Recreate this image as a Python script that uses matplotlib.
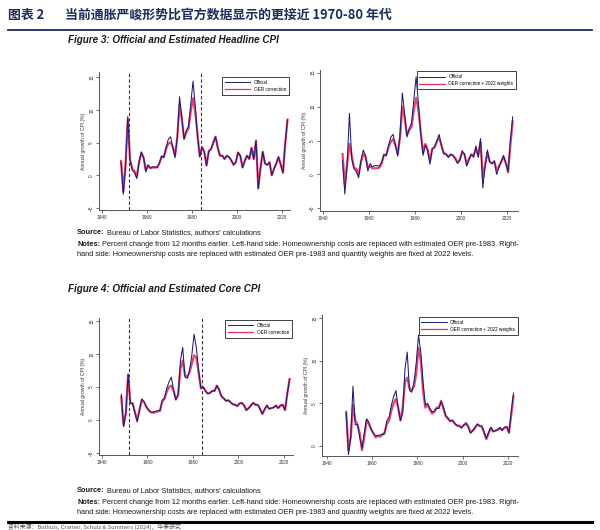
import matplotlib
matplotlib.use("Agg")
import matplotlib.pyplot as plt
from matplotlib.lines import Line2D

plt.rcParams['font.family'] = ['Liberation Sans', 'DejaVu Sans']

# ---- data (annual growth of CPI, %) ----
years = [y + 0.5 for y in range(1948, 2023)]

headline_official = [
    2.0, -2.9, 1.5, 9.0, 2.3, 0.8, 0.4, -0.5, 2.0, 3.6,
    2.8, 0.5, 1.6, 1.1, 1.3, 1.3, 1.2, 1.8, 3.0, 2.7,
    4.3, 5.5, 5.9, 4.3, 2.7, 5.8, 12.0, 9.0, 5.5, 6.8,
    7.5, 11.0, 14.4, 10.5, 6.0, 2.8, 4.3, 3.6, 1.5, 3.7,
    4.0, 5.0, 5.9, 4.2, 3.0, 3.0, 2.5, 3.0, 2.8, 2.3,
    1.6, 2.0, 3.5, 3.0, 1.2, 2.2, 3.0, 2.5, 4.2, 2.5,
    5.3, -2.0, 1.2, 3.6, 1.8, 1.6, 2.0, 0.0, 1.0, 1.8,
    2.8, 1.6, 0.4, 5.0, 8.5]

headline_oer = [
    2.2, -2.5, 1.6, 8.6, 2.4, 1.0, 0.6, -0.2, 2.0, 3.4,
    2.7, 0.8, 1.5, 1.1, 1.2, 1.2, 1.2, 1.8, 2.8, 2.8,
    4.0, 4.9, 5.0, 4.4, 3.0, 5.8, 10.8, 8.6, 5.6, 6.6,
    7.2, 9.8, 11.8, 9.6, 6.2, 2.9, 4.3, 3.6, 1.5, 3.7,
    4.0, 5.0, 5.9, 4.2, 3.0, 3.0, 2.5, 3.0, 2.8, 2.3,
    1.6, 2.0, 3.5, 3.0, 1.2, 2.2, 3.0, 2.5, 4.2, 2.5,
    5.3, -2.0, 1.2, 3.6, 1.8, 1.6, 2.0, 0.0, 1.0, 1.8,
    2.8, 1.6, 0.4, 5.0, 8.5]

headline_oer_w22 = [
    3.0, -1.5, 1.5, 4.5, 2.8, 1.0, 0.8, 0.0, 1.8, 3.0,
    2.6, 1.0, 1.2, 0.9, 0.9, 0.9, 1.0, 1.6, 2.8, 2.9,
    4.0, 4.8, 5.2, 4.3, 3.0, 5.5, 10.0, 8.3, 5.8, 6.5,
    7.0, 9.5, 11.3, 9.5, 6.3, 3.3, 4.5, 3.6, 2.0, 3.8,
    4.0, 4.8, 5.4, 4.3, 3.2, 3.0, 2.6, 2.9, 2.8, 2.4,
    1.8, 2.2, 3.2, 3.0, 1.5, 2.3, 2.9, 2.8, 3.8, 2.8,
    4.8, -0.5, 1.4, 3.2, 1.9, 1.6, 1.9, 0.6, 1.2, 1.9,
    2.6, 1.7, 0.3, 4.4, 7.8]

core_official = [
    3.9, -1.0, 1.0, 7.0, 2.5, 2.5, 1.0, -0.3, 1.5, 3.2,
    2.8, 2.0, 1.5, 1.2, 1.2, 1.3, 1.4, 1.4, 3.0, 3.4,
    4.8, 5.8, 6.5, 4.5, 3.0, 3.8, 9.0, 11.0, 6.5, 6.3,
    7.5, 9.8, 13.0, 11.0, 7.5, 4.8, 5.0, 4.4, 4.0, 4.1,
    4.4, 4.4, 5.2, 4.6, 3.6, 3.3, 2.9, 3.0, 2.7, 2.4,
    2.3, 2.1, 2.5, 2.6, 2.2, 1.5, 1.8, 2.2, 2.6, 2.3,
    2.3, 1.7, 0.9, 1.6, 2.2, 1.7, 1.8, 1.9, 2.2, 1.8,
    2.2, 2.3, 1.5, 4.0, 6.2]

core_oer = [
    3.5, -0.8, 1.0, 6.8, 2.6, 2.5, 1.2, 0.0, 1.5, 3.0,
    2.7, 2.0, 1.5, 1.2, 1.1, 1.2, 1.3, 1.4, 2.8, 3.2,
    4.3, 5.0, 5.2, 4.4, 3.2, 3.8, 7.8, 9.0, 6.8, 6.5,
    7.2, 8.5, 9.8, 9.5, 7.2, 4.8, 5.0, 4.4, 4.0, 4.1,
    4.4, 4.4, 5.2, 4.6, 3.6, 3.3, 2.9, 3.0, 2.7, 2.4,
    2.3, 2.1, 2.5, 2.6, 2.2, 1.5, 1.8, 2.2, 2.6, 2.3,
    2.3, 1.7, 0.9, 1.6, 2.2, 1.7, 1.8, 1.9, 2.2, 1.8,
    2.2, 2.3, 1.5, 4.0, 6.2]

core_oer_w22 = [
    4.0, -0.5, 1.0, 4.8, 3.0, 2.5, 1.5, -0.5, 1.0, 3.0,
    2.6, 2.0, 1.5, 1.0, 1.2, 1.1, 1.3, 1.6, 2.6, 3.0,
    4.2, 5.0, 5.5, 4.5, 3.0, 4.5, 7.5, 8.0, 6.8, 6.5,
    7.0, 8.5, 11.5, 10.0, 6.5, 4.5, 4.8, 4.3, 3.8, 4.0,
    4.5, 4.5, 5.3, 4.4, 3.5, 3.2, 2.9, 3.0, 2.6, 2.4,
    2.4, 2.2, 2.4, 2.7, 2.3, 1.6, 1.8, 2.1, 2.5, 2.4,
    2.3, 1.5, 0.8, 1.5, 2.1, 1.7, 1.8, 1.9, 2.1, 1.9,
    2.1, 2.2, 1.6, 3.6, 5.8]

oer_break_years = [1952, 1984]
x_ticks = [1940, 1960, 1980, 2000, 2020]

NAVY = '#1c1c78'
RED = '#e8305a'
INK = '#1a1a1a'
W, H = 600, 530

fig = plt.figure(figsize=(6, 5.3), dpi=100)
renderer = fig.canvas.get_renderer()


def px_axes(left, top, right, bottom):
    return fig.add_axes([left / W, 1 - bottom / H, (right - left) / W, (bottom - top) / H])


def panel(rect, ylim, yticks, xlim, official, est, est_label, leg_anchor, breaks):
    ax = px_axes(*rect)
    ax.plot(years, est, color=RED, lw=1.6, alpha=0.9, zorder=2)
    ax.plot(years, official, color=NAVY, lw=0.75, zorder=3)
    for b in breaks:
        ax.axvline(b, color='#333333', lw=0.8, ls=(0, (3, 2)), zorder=1)
    ax.set_xlim(*xlim)
    ax.set_ylim(*ylim)
    ax.set_xticks(x_ticks)
    ax.set_yticks(yticks)
    ax.tick_params(labelsize=3.4, length=2, width=0.5, pad=1.5, colors='#333333')
    for lbl in ax.get_yticklabels():
        lbl.set_rotation(90)
        lbl.set_va('center')
    for s in ['top', 'right']:
        ax.spines[s].set_visible(False)
    for s in ['left', 'bottom']:
        ax.spines[s].set_color('#555555')
        ax.spines[s].set_linewidth(0.7)
    ax.set_ylabel('Annual growth of CPI (%)', fontsize=3.6, labelpad=2, color='#333333')
    handles = [Line2D([], [], color=NAVY, lw=0.7), Line2D([], [], color=RED, lw=0.9)]
    leg = ax.legend(handles, ['Official', est_label], loc='upper right',
                    bbox_to_anchor=leg_anchor, borderaxespad=0, fontsize=3.3,
                    handlelength=5.5, fancybox=False, framealpha=1,
                    edgecolor='#222222', borderpad=0.6, labelspacing=0.5)
    leg.get_frame().set_linewidth(0.6)
    return ax


# ---- Figure 3 : headline ----
panel((99, 72, 290, 210), (-5.3, 15.8), [-5, 0, 5, 10, 15], (1938.7, 2023.6),
      headline_official, headline_oer, 'OER correction', (0.995, 0.965), oer_break_years)
panel((320, 70, 518, 211), (-5.4, 15.4), [-5, 0, 5, 10, 15], (1938.7, 2024.8),
      headline_official, headline_oer_w22, 'OER correction + 2022 weights', (0.99, 0.99), [])

# ---- Figure 4 : core ----
panel((99, 318, 293, 455), (-5.3, 15.45), [-5, 0, 5, 10, 15], (1938.7, 2024.0),
      core_official, core_oer, 'OER correction', (0.995, 0.985), oer_break_years)
panel((322, 315, 518, 456), (-1.17, 15.35), [0, 5, 10, 15], (1937.8, 2024.5),
      core_official, core_oer_w22, 'OER correction + 2022 weights', (1.0, 0.986), [])

# ---- header ----
title_kw = dict(family=['Noto Sans CJK SC', 'DejaVu Sans'], fontweight='bold',
                color='#1d2b5e', fontsize=9.3, va='center')
fig.text(8 / W, 1 - 15 / H, '图表 2', **title_kw)
fig.text(65 / W, 1 - 15 / H, '当前通胀严峻形势比官方数据显示的更接近 1970-80 年代', **title_kw)
fig.add_artist(Line2D([8 / W, 592 / W], [1 - 30 / H, 1 - 30 / H], color='#1d2b5e', lw=1.3))

fig.text(68 / W, 1 - 40 / H, 'Figure 3: Official and Estimated Headline CPI',
         fontsize=7.1, fontweight='bold', style='italic', va='center', color=INK)
fig.text(68 / W, 1 - 289 / H, 'Figure 4: Official and Estimated Core CPI',
         fontsize=7.1, fontweight='bold', style='italic', va='center', color=INK)

# ---- footnotes ----
notes1 = ("Percent change from 12 months earlier. Left-hand side: Homeownership costs are "
          "replaced with estimated OER pre-1983. Right-")
notes2 = ("hand side: Homeownership costs are replaced with estimated OER pre-1983 and "
          "quantity weights are fixed at 2022 levels.")
fn_kw = dict(fontsize=5.3, va='center', color=INK)


def labelled(y_px, label, body):
    t = fig.text(77 / W, 1 - y_px / H, label, fontweight='bold', **fn_kw)
    x1 = t.get_window_extent(renderer).x1
    fig.text((x1 + 2) / W, 1 - y_px / H, body, **fn_kw)


def footnote(y0):
    labelled(y0, 'Source:', "Bureau of Labor Statistics, authors' calculations")
    labelled(y0 + 11, 'Notes:', notes1)
    fig.text(77 / W, 1 - (y0 + 21) / H, notes2, **fn_kw)


footnote(233)
footnote(491)

fig.add_artist(Line2D([8 / W, 592 / W], [1 - 522 / H, 1 - 522 / H], color='black', lw=2.2))
fig.text(8 / W, 1 - 529.5 / H, '资料来源：Bolhuis, Cramer, Schulz & Summers (2024)，华泰研究',
         family=['Noto Sans CJK SC', 'DejaVu Sans'], fontsize=4.2, va='bottom', color='#555555')

fig.savefig('out.png', dpi=100)
